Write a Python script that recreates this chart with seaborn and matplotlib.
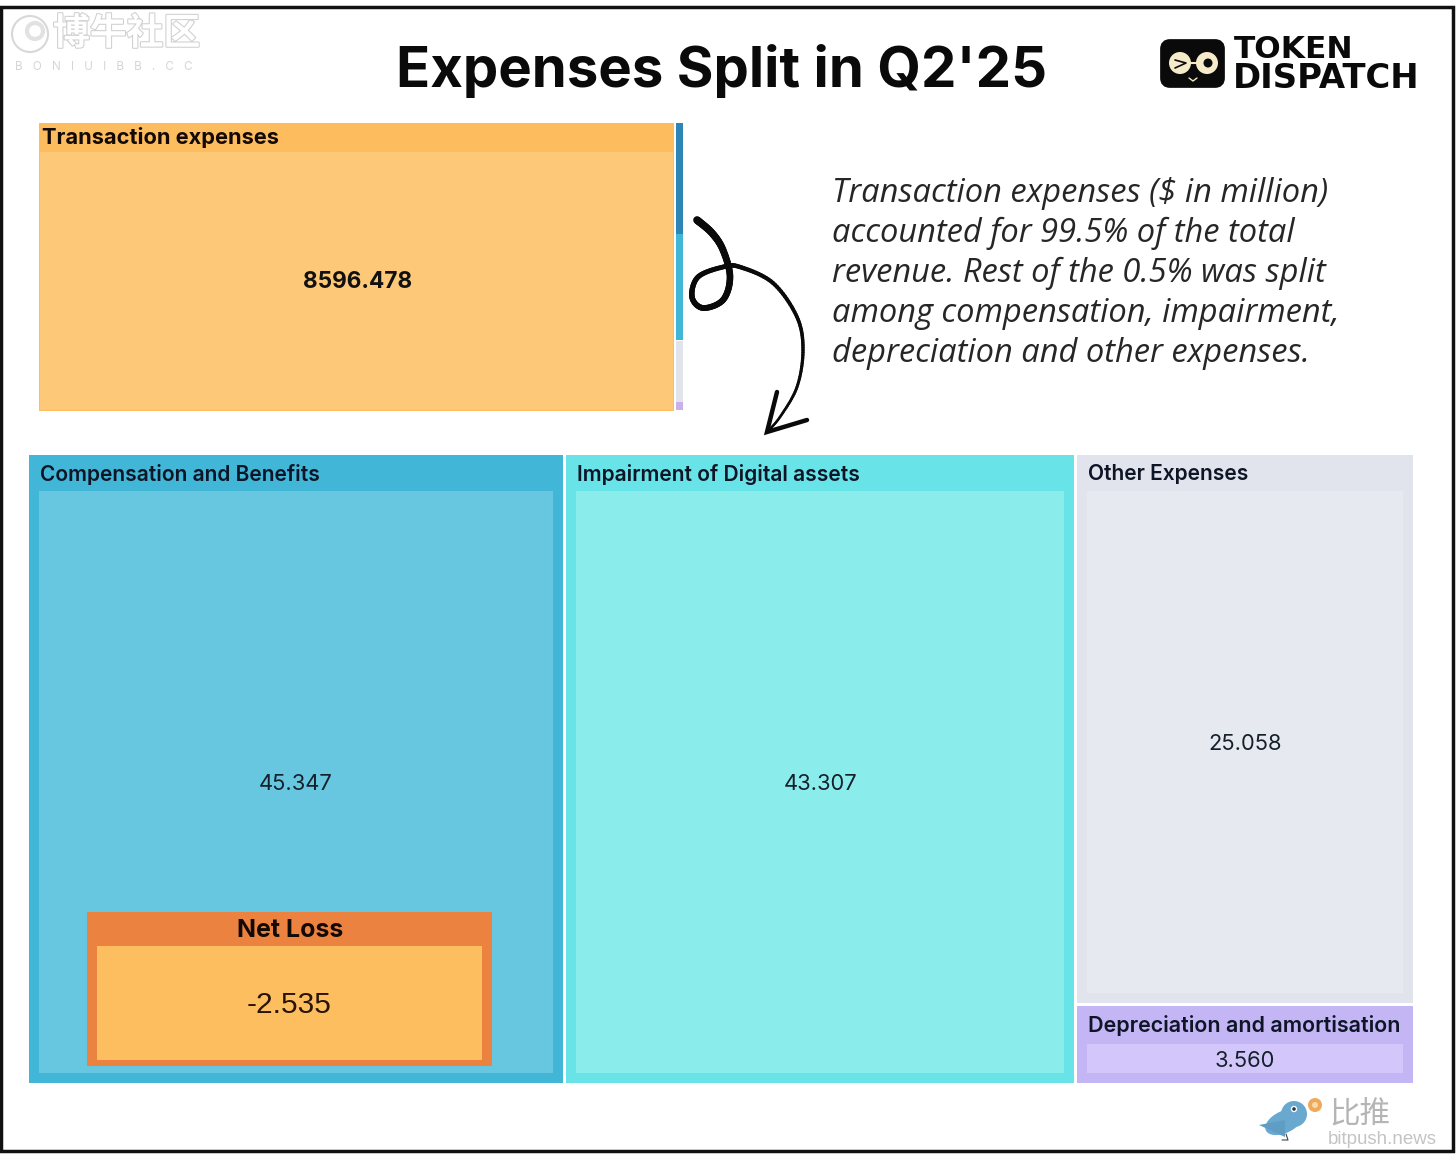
import numpy as np
import pandas as pd
import matplotlib
matplotlib.use("Agg")
import matplotlib.pyplot as plt
import matplotlib.patheffects as pe
from matplotlib.collections import LineCollection
from matplotlib.patches import Circle, Ellipse, FancyBboxPatch, Polygon, Rectangle
import seaborn as sns

# --- datos ---
main_name = "Transaction expenses"
main_value = 8596.478
small_names = ["Compensation and Benefits", "Impairment of Digital assets", "Other Expenses", "Depreciation and amortisation"]
small_values = [45.347, 43.307, 25.058, 3.560]
loss_name = "Net Loss"
loss_value = -2.535
title = "Expenses Split in Q2'25"
note_lines = [
    "Transaction expenses ($ in million)",
    "accounted for 99.5% of the total",
    "revenue. Rest of the 0.5% was split",
    "among compensation, impairment,",
    "depreciation and other expenses.",
]

sns.set_theme(style="white")
plt.rcParams["font.family"] = ["Inter", "Noto Sans CJK SC", "DejaVu Sans"]

# colores (borde, relleno)
outer = sns.color_palette(["#41B6D6", "#68E3E8", "#E1E4EC", "#C4B5F5"])
inner = sns.color_palette(["#67C7E0", "#8BECEC", "#E6E9F0", "#D2C6FA"])
sliver = sns.color_palette(["#2E86B8", "#41B6D6", "#E1E4EC", "#C9B0E8"])

df = pd.DataFrame({"name": small_names, "value": small_values})
rest = df["value"].sum()

fig = plt.figure(figsize=(14.56, 11.65), dpi=100)
ax = fig.add_axes([0, 0, 1, 1])
ax.set_xlim(0, 1456)
ax.set_ylim(1165, 0)
ax.axis("off")


def box(x0, y0, x1, y1, color, z=2):
    ax.bar(x0, y1 - y0, width=x1 - x0, bottom=y0, align="edge", color=color, linewidth=0, zorder=z)


# marco negro
ax.add_patch(Rectangle((1, 7), 1452, 1144, fill=False, ec="#111111", lw=2.5, zorder=1))

# --- treemap de arriba ---
tx0, ty0, tx1, ty1 = 39, 123, 683, 411
split = tx0 + (tx1 - tx0) * main_value / (main_value + rest)
box(tx0, ty0, split, ty1, "#FDBD5F")
box(tx0 + 1, ty0 + 29, split - 1, ty1 - 1, "#FDC878", 3)
ax.text(42, ty0 + 15, main_name, fontsize=15.7, fontweight="bold", color="#140a05", va="center", zorder=5)
ax.text((tx0 + split) / 2 + 0.5, (ty0 + 29 + ty1) / 2, f"{main_value:.3f}", fontsize=16.3, fontweight="bold",
        color="#111111", ha="center", va="center", zorder=5)

y = ty0
for i, v in enumerate(df["value"]):
    h = (ty1 - ty0) * v / rest
    box(split + 1.5, y, tx1, y + h - 0.7, sliver[i])
    y += h

# --- treemap de abajo ---
bx0, by0, bx1, by1 = 29, 455, 1413, 1083
col_w = (bx1 - bx0) / rest
comp_x1 = bx0 + col_w * small_values[0]
imp_x1 = comp_x1 + col_w * small_values[1]
other_h = (by1 - by0) * small_values[2] / (small_values[2] + small_values[3])
tiles = [
    (bx0, by0, comp_x1 - 1, by1, 36),
    (comp_x1 + 2, by0, imp_x1 - 1, by1, 36),
    (imp_x1 + 2, by0, bx1, by0 + other_h - 1.5, 36),
    (imp_x1 + 2, by0 + other_h + 1.5, bx1, by1, 38),
]
label_sizes = [15.1, 15.1, 15.1, 15.45]
for i, (x0, y0, x1, y1, head) in enumerate(tiles):
    box(x0, y0, x1, y1, outer[i])
    box(x0 + 10, y0 + head, x1 - 10, y1 - 10, inner[i], 3)
    ax.text(x0 + 11, y0 + 19.5, small_names[i], fontsize=label_sizes[i], fontweight="semibold", color="#0d1526",
            va="center", zorder=5)
    ax.text((x0 + x1) / 2, (y0 + head + y1 - 10) / 2 + 2, f"{small_values[i]:.3f}", fontsize=15.8,
            color="#15202b", ha="center", va="center", zorder=5)

# --- recuadro Net Loss ---
box(87, 912, 492, 1066, "#EC823F", 6)
box(97, 946, 482, 1060, "#FDBE60", 7)
ax.text(290, 930.5, loss_name, fontsize=18, fontweight="bold", color="#140a05", ha="center", va="center", zorder=8)
ax.text(289.5, 1005, f"{loss_value:.3f}", fontsize=21.5, color="#2a1405", ha="center", va="center",
        family="Liberation Sans", zorder=8)

# --- titulo y nota ---
ax.text(722, 71, title, fontsize=40.5, fontweight="bold", color="#0a0a0a", ha="center", va="center", zorder=5)
for k, line in enumerate(note_lines):
    ax.text(832, 194 + k * 39.8, line, fontsize=23.5, style="italic", family="Open Sans", color="#262626",
            va="center", zorder=5)


# --- flecha dibujada a mano ---
def smooth(pts, n=14):
    pts = np.array(pts, dtype=float)
    p = np.vstack([pts[0], pts, pts[-1]])
    out = []
    for j in range(1, len(p) - 2):
        for t in np.linspace(0, 1, n, endpoint=False):
            out.append(0.5 * (2 * p[j] + (p[j + 1] - p[j - 1]) * t
                              + (2 * p[j - 1] - 5 * p[j] + 4 * p[j + 1] - p[j + 2]) * t ** 2
                              + (3 * p[j] - p[j - 1] - 3 * p[j + 1] + p[j + 2]) * t ** 3))
    out.append(pts[-1])
    return np.array(out)


curve = smooth([(697, 220), (712, 233), (723, 250), (730, 277), (723, 300), (703, 308), (692, 297), (698, 277),
                (723, 267), (740, 267), (773, 283), (797, 317), (803, 350), (797, 387), (780, 417), (767, 432)])
segs = np.stack([curve[:-1], curve[1:]], axis=1)
ax.add_collection(LineCollection(segs, colors="#0a0a0a", linewidths=np.linspace(5.5, 1.6, len(segs)),
                                 capstyle="round", zorder=5))
ax.plot([777, 767, 807], [392, 432, 420], color="#0a0a0a", lw=3.2, solid_joinstyle="miter", zorder=5)

# --- logo Token Dispatch ---
ax.add_patch(FancyBboxPatch((1165, 44), 55, 39, boxstyle="round,pad=0,rounding_size=5", fc="#0a0a0a",
                            ec="#0a0a0a", lw=7, zorder=5))
ax.add_patch(Circle((1180, 63), 11, fc="#F5EBC8", ec="none", zorder=6))
ax.add_patch(Circle((1207, 63), 11, fc="#F5EBC8", ec="none", zorder=6))
ax.add_patch(Circle((1208, 63), 4.5, fc="#0a0a0a", ec="none", zorder=7))
ax.plot([1175, 1186, 1175], [60, 63, 68], color="#0a0a0a", lw=1.2, zorder=7)
ax.plot([1191, 1196], [63, 63], color="#F5EBC8", lw=1.5, zorder=7)
ax.plot([1189, 1193, 1197], [78, 81, 78], color="#F5EBC8", lw=1, zorder=7)
ax.text(1234, 50, "TOKEN", fontsize=22.5, fontweight="bold", family="DejaVu Sans", color="#0a0a0a", va="center", zorder=5)
ax.text(1233, 79, "DISPATCH", fontsize=24.4, fontweight="bold", family="DejaVu Sans", color="#0a0a0a", va="center", zorder=5)

# --- marcas de agua ---
shadow = [pe.withStroke(linewidth=1.5, foreground="#cfcfcf")]
ax.add_patch(Circle((30, 34), 18, fc="white", ec="#d8d8d8", lw=1.5, zorder=5))
ax.add_patch(Circle((35, 31), 8, fc="white", ec="#e2e2e2", lw=3, zorder=6))
ax.text(53, 34, "博牛社区", fontsize=26.5, fontweight="bold", family="Noto Sans CJK SC", color="white", va="center",
        path_effects=shadow, zorder=5)
ax.text(15, 67, "   ".join("BONIUIBB.CC"), fontsize=8.5, color="#d6d6d6", va="center", zorder=5)

ax.add_patch(Ellipse((1284, 1122), 40, 22, angle=-25, fc="#69A9CF", ec="none", zorder=5))
ax.add_patch(Circle((1294, 1114), 13, fc="#69A9CF", ec="none", zorder=5))
ax.add_patch(Polygon([(1259, 1125), (1285, 1120), (1285, 1137)], fc="#5F9DC4", ec="none", zorder=5))
ax.add_patch(Circle((1294, 1109), 2.5, fc="#223344", ec="white", lw=1, zorder=6))
ax.plot([1286, 1288, 1282], [1134, 1140, 1140], color="#444444", lw=0.8, zorder=5)
ax.add_patch(Circle((1315, 1105), 7, fc="#F0A95A", ec="none", zorder=5))
ax.add_patch(Circle((1315, 1105), 3, fc="#F8D9A8", ec="none", zorder=6))
ax.text(1329, 1115, "比推", fontsize=22, style="italic", family="Noto Sans CJK SC", color="#b5b5b5", va="center", zorder=5)
ax.text(1328, 1140, "bitpush.news", fontsize=13.5, family="Liberation Sans", color="#c4c4c4", va="center", zorder=5)

fig.savefig("out.png", dpi=100)
